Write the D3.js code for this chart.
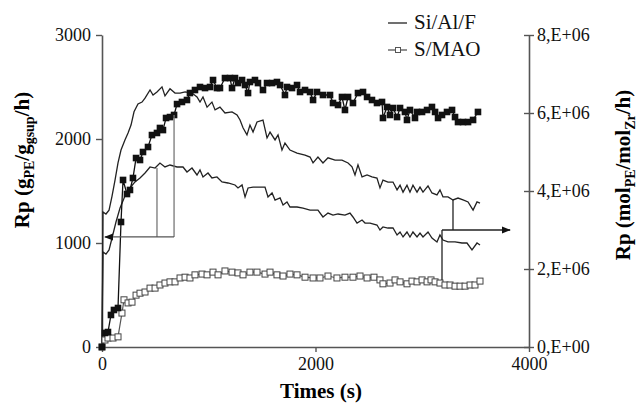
<!DOCTYPE html>
<html>
<head>
<meta charset="utf-8">
<script src="https://cdn.jsdelivr.net/npm/d3@7/dist/d3.min.js"></script>
<style>
  body { margin: 0; background: #fff; }
  svg { display: block; font-family: "Liberation Serif", "Times New Roman", serif; }
</style>
</head>
<body>
<script>

// _____________ data

// Si/Al/F, upper curve, right axis (mol/mol/h)
var siAlFMolT = [0,9,37,66,94,122,150,178,215,244,272,300,337,375,403,450,478,515,562,590,637,684,731,778,843,890,918,946,984,1030,1059,1105,1152,1218,1265,1293,1321,1358,1386,1415,1452,1508,1546,1574,1621,1649,1686,1714,1761,1827,1902,1949,1977,2023,2070,2117,2183,2248,2305,2342,2370,2398,2436,2483,2529,2576,2604,2632,2679,2726,2764,2792,2820,2857,2885,2913,2951,2979,3007,3054,3091,3138,3166,3194,3241,3288,3335,3382,3429,3476,3513,3541]
var siAlFMolV = [0,3.46,3.41,3.51,3.87,4.28,4.72,5.05,5.31,5.49,5.69,6.03,6.23,6.28,6.38,6.59,6.46,6.54,6.67,6.44,6.62,6.51,6.51,6.54,6.51,6.41,6.28,6.41,6.15,6.28,6.08,6.15,6.00,6.03,5.95,5.82,5.62,5.44,5.69,5.51,5.77,5.82,5.36,5.51,5.31,5.44,5.05,5.23,5.05,4.97,4.92,4.87,4.72,4.87,4.72,4.85,4.79,4.79,4.72,4.62,4.41,4.67,4.36,4.41,4.36,4.33,4.08,4.28,4.23,4.23,4.03,4.15,3.97,4.15,3.97,4.15,3.97,4.10,3.97,4.13,3.95,3.90,4.03,3.85,3.85,3.77,3.82,3.77,3.72,3.51,3.72,3.69]

// Si/Al/F, lower curve, left axis (g/g/h)
var siAlFGT = [0,9,37,66,94,131,169,215,262,309,356,403,450,497,543,590,637,703,759,796,843,890,918,946,993,1030,1077,1124,1180,1246,1274,1312,1340,1368,1415,1480,1527,1555,1593,1621,1668,1696,1733,1761,1827,1883,1949,2023,2070,2117,2164,2211,2276,2323,2351,2389,2436,2464,2511,2576,2604,2632,2679,2726,2764,2792,2820,2857,2885,2913,2951,2979,3007,3054,3091,3138,3166,3194,3241,3307,3372,3419,3466,3513,3541]
var siAlFGV = [0,913,894,933,1048,1202,1337,1452,1529,1587,1625,1673,1731,1721,1769,1731,1750,1731,1731,1683,1721,1654,1702,1635,1673,1625,1635,1587,1577,1558,1529,1558,1442,1529,1538,1538,1538,1442,1481,1413,1433,1365,1394,1346,1346,1336,1317,1317,1250,1288,1269,1279,1269,1288,1250,1192,1221,1192,1192,1173,1125,1154,1144,1144,1077,1106,1058,1106,1058,1106,1058,1096,1058,1106,1048,1010,1077,1029,1010,1010,1000,1000,933,1000,981]

// S/MAO, filled squares, left axis (g/g/h)
var sMaoGT = [0,28,56,84,112,150,178,197,234,262,290,319,356,384,431,468,515,543,571,600,637,675,703,749,796,824,871,918,965,1012,1040,1077,1105,1152,1199,1218,1246,1274,1312,1340,1368,1386,1433,1461,1508,1546,1593,1639,1668,1714,1733,1780,1827,1855,1902,1949,1977,2014,2070,2136,2164,2211,2248,2276,2305,2351,2398,2445,2483,2529,2576,2623,2632,2670,2698,2726,2764,2792,2838,2857,2885,2932,2951,2998,3045,3091,3120,3148,3185,3232,3279,3307,3335,3382,3429,3476,3522]
var sMaoGV = [0,135,144,308,356,375,1202,1606,1471,1510,1625,1817,1798,1875,1923,2038,2058,2106,2086,2202,2211,2231,2336,2356,2375,2442,2471,2500,2490,2500,2567,2490,2490,2586,2586,2490,2586,2538,2567,2519,2442,2548,2567,2538,2471,2538,2538,2548,2519,2423,2500,2490,2519,2452,2471,2452,2375,2452,2423,2423,2346,2327,2404,2279,2404,2346,2442,2452,2404,2375,2346,2356,2202,2308,2231,2298,2211,2298,2260,2183,2279,2202,2260,2260,2279,2308,2260,2202,2231,2260,2279,2211,2163,2163,2163,2183,2260]

// S/MAO, open squares, right axis (mol/mol/h)
var sMaoMolT = [0,28,56,103,150,187,206,244,281,319,356,403,450,497,543,590,637,684,731,778,824,871,937,984,1040,1087,1152,1218,1274,1321,1386,1452,1527,1574,1639,1696,1761,1827,1902,1977,2042,2117,2201,2276,2351,2417,2483,2548,2604,2632,2698,2745,2792,2857,2904,2951,2998,3045,3082,3120,3166,3213,3260,3307,3354,3401,3448,3494,3541]
var sMaoMolV = [0,0.18,0.23,0.23,0.26,0.87,1.21,1.13,1.15,1.33,1.38,1.41,1.51,1.51,1.59,1.64,1.67,1.67,1.77,1.79,1.77,1.85,1.87,1.85,1.92,1.85,1.95,1.92,1.90,1.85,1.92,1.92,1.87,1.92,1.85,1.82,1.87,1.85,1.79,1.77,1.77,1.82,1.77,1.79,1.79,1.82,1.77,1.79,1.72,1.62,1.64,1.72,1.67,1.62,1.69,1.67,1.72,1.67,1.72,1.67,1.64,1.59,1.59,1.56,1.56,1.56,1.59,1.59,1.69]

// axes
var xTicks = [0, 2000, 4000]
var leftTicks = [0, 1000, 2000, 3000]
var rightTicks = [0, 2e6, 4e6, 6e6, 8e6]
var rightTickLabels = ['0,E+00', '2,E+06', '4,E+06', '6,E+06', '8,E+06']
var legendNames = ['Si/Al/F', 'S/MAO']

// arrow annotations, in data units: [t, value]
var leftArrowStems = [[515, 1721], [675, 2231]]     // up to the left-axis curves
var leftArrowLevel = 1058
var leftArrowTip = 28
var rightArrowStems = [[3185, 1.72e6], [3288, 3.77e6]]  // to the right-axis curves
var rightArrowLevel = 3.0e6
var rightArrowTip = 3822

// _____________ scales
var width = 640, height = 406
var x = d3.scaleLinear().domain([0, 4000]).range([102, 529])
var yL = d3.scaleLinear().domain([0, 3000]).range([347, 35])
var yR = d3.scaleLinear().domain([0, 8e6]).range([347, 35])

function zip(ts, vs, k) {
  return ts.map(function (t, i) { return { t: t, v: vs[i] * (k || 1) } })
}
var upperThin = zip(siAlFMolT, siAlFMolV, 1e6)
var lowerThin = zip(siAlFGT, siAlFGV)
var filledSq = zip(sMaoGT, sMaoGV)
var openSq = zip(sMaoMolT, sMaoMolV, 1e6)

var svg = d3.select('body').append('svg')
  .attr('width', width)
  .attr('height', height)

var axisColor = '#555'

// _____________ axes
var gx = svg.append('g')
  .attr('transform', 'translate(0,347)')
  .call(d3.axisBottom(x).tickValues(xTicks).tickSize(5).tickSizeOuter(0).tickFormat(d3.format('d')))
var gl = svg.append('g')
  .attr('transform', 'translate(102,0)')
  .call(d3.axisLeft(yL).tickValues(leftTicks).tickSize(6).tickSizeOuter(0).tickFormat(d3.format('d')))
var gr = svg.append('g')
  .attr('transform', 'translate(529,0)')
  .call(d3.axisRight(yR).tickValues(rightTicks).tickSize(5).tickSizeOuter(0)
    .tickFormat(function (d, i) { return rightTickLabels[i] }))

gr.selectAll('.tick line').attr('x1', -5)

;[gx, gl, gr].forEach(function (g) {
  g.attr('font-family', null)
  g.select('.domain').attr('stroke', axisColor).attr('stroke-width', 1.6)
  g.selectAll('.tick line').attr('stroke', axisColor).attr('stroke-width', 1.4)
  g.selectAll('.tick text')
    .attr('fill', '#111')
    .style('font-family', '"Liberation Serif", serif')
    .style('font-size', '18px')
})
gx.selectAll('.tick text').attr('y', 10)
gl.selectAll('.tick text').attr('x', -11)
gr.selectAll('.tick text').attr('x', 8)

// axis titles
var titleX = svg.append('text')
  .attr('x', 321).attr('y', 398)
  .attr('text-anchor', 'middle')
  .style('font-size', '21px').style('font-weight', 'bold')
  .text('Times (s)')

function subTitle(parts, tx, ty) {
  var t = svg.append('text')
    .attr('transform', 'translate(' + tx + ',' + ty + ') rotate(-90)')
    .attr('text-anchor', 'middle')
    .style('font-size', '21px').style('font-weight', 'bold')
  parts.forEach(function (p) {
    var s = t.append('tspan').text(p[0])
    if (p[1] == 'sub') s.style('font-size', '14px').attr('dy', 5)
    if (p[1] == 'up') s.attr('dy', -5)
  })
}
subTitle([['Rp (g'], ['PE', 'sub'], ['/g', 'up'], ['gsup', 'sub'], ['/h)', 'up']], 29, 160)
subTitle([['Rp (mol'], ['PE', 'sub'], ['/mol', 'up'], ['Zr', 'sub'], ['/h)', 'up']], 630, 175)

// _____________ curves
var lineL = d3.line().x(function (d) { return x(d.t) }).y(function (d) { return yL(d.v) })
var lineR = d3.line().x(function (d) { return x(d.t) }).y(function (d) { return yR(d.v) })

var plot = svg.append('g').attr('class', 'curves')

plot.append('path').datum(upperThin)
  .attr('d', lineR).attr('fill', 'none').attr('stroke', '#222').attr('stroke-width', 1.3)
plot.append('path').datum(lowerThin)
  .attr('d', lineL).attr('fill', 'none').attr('stroke', '#222').attr('stroke-width', 1.3)
plot.append('path').datum(openSq)
  .attr('d', lineR).attr('fill', 'none').attr('stroke', '#555').attr('stroke-width', 1.2)
plot.append('path').datum(filledSq)
  .attr('d', lineL).attr('fill', 'none').attr('stroke', '#111').attr('stroke-width', 1.3)

plot.selectAll('rect.open').data(openSq)
  .enter().append('rect')
  .attr('class', 'open')
  .attr('x', function (d) { return x(d.t) - 3 })
  .attr('y', function (d) { return yR(d.v) - 3 })
  .attr('width', 6).attr('height', 6)
  .attr('fill', '#fff').attr('stroke', '#444').attr('stroke-width', 1)

plot.selectAll('rect.filled').data(filledSq)
  .enter().append('rect')
  .attr('class', 'filled')
  .attr('x', function (d) { return x(d.t) - 3.3 })
  .attr('y', function (d) { return yL(d.v) - 3.3 })
  .attr('width', 6.6).attr('height', 6.6)
  .attr('fill', '#111')

// _____________ arrows
var defs = svg.append('defs')
defs.append('marker')
  .attr('id', 'head')
  .attr('viewBox', '0 0 10 10')
  .attr('refX', 9).attr('refY', 5)
  .attr('markerWidth', 7).attr('markerHeight', 7)
  .attr('orient', 'auto')
  .append('path').attr('d', 'M0,1 L10,5 L0,9 Z').attr('fill', '#111')

var ann = svg.append('g').attr('class', 'arrows')
leftArrowStems.forEach(function (s) {
  ann.append('line')
    .attr('x1', x(s[0])).attr('x2', x(s[0]))
    .attr('y1', yL(s[1])).attr('y2', yL(leftArrowLevel))
    .attr('stroke', '#777').attr('stroke-width', 1.3)
})
ann.append('line')
  .attr('x1', x(leftArrowStems[1][0])).attr('x2', x(leftArrowTip))
  .attr('y1', yL(leftArrowLevel)).attr('y2', yL(leftArrowLevel))
  .attr('stroke', '#555').attr('stroke-width', 1.3)
  .attr('marker-end', 'url(#head)')

rightArrowStems.forEach(function (s) {
  ann.append('line')
    .attr('x1', x(s[0])).attr('x2', x(s[0]))
    .attr('y1', yR(s[1])).attr('y2', yR(rightArrowLevel))
    .attr('stroke', '#222').attr('stroke-width', 1.3)
})
ann.append('line')
  .attr('x1', x(rightArrowStems[0][0])).attr('x2', x(rightArrowTip))
  .attr('y1', yR(rightArrowLevel)).attr('y2', yR(rightArrowLevel))
  .attr('stroke', '#222').attr('stroke-width', 1.3)
  .attr('marker-end', 'url(#head)')

// _____________ legend
var legend = svg.append('g').attr('class', 'legend')
legendNames.forEach(function (name, i) {
  var ly = 23 + i * 27
  legend.append('line')
    .attr('x1', 388).attr('x2', 407).attr('y1', ly).attr('y2', ly)
    .attr('stroke', i == 0 ? '#222' : '#555').attr('stroke-width', 1.3)
  if (i == 1) {
    legend.append('rect')
      .attr('x', 395.5).attr('y', ly - 2.5).attr('width', 5).attr('height', 5)
      .attr('fill', '#fff').attr('stroke', '#555').attr('stroke-width', 1)
  }
  legend.append('text')
    .attr('x', 414).attr('y', ly + 6)
    .style('font-size', '21px')
    .attr('fill', '#111')
    .text(name)
})

</script>
</body>
</html>
